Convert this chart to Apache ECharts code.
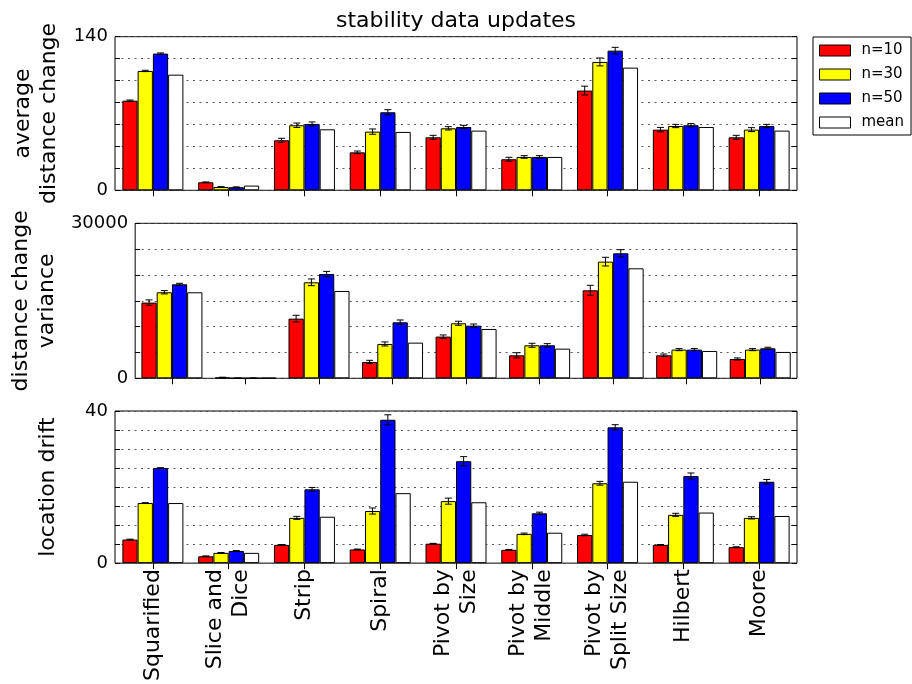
<!DOCTYPE html>
<html>
<head>
<meta charset="utf-8">
<script src="https://cdn.jsdelivr.net/npm/echarts@6/dist/echarts.min.js"></script>
<style>
html,body{margin:0;padding:0;background:#fff;}
#c{width:912px;height:684px;}
</style>
</head>
<body>
<div id="c"></div>
<script>
// ---- data ----
const categories = ['Squarified', 'Slice and\nDice', 'Strip', 'Spiral', 'Pivot by\nSize', 'Pivot by\nMiddle', 'Pivot by\nSplit Size', 'Hilbert', 'Moore'];
const seriesNames = ['n=10', 'n=30', 'n=50', 'mean'];

// panel 1: average distance change
const avgN10  = [81.7, 7.3, 45.6, 34.6, 48.3, 28.3, 90.9, 55.3, 48.3];
const avgN30  = [108.8, 3.0, 59.3, 53.5, 56.5, 30.4, 117.0, 58.6, 55.3];
const avgN50  = [124.6, 2.8, 60.5, 71.1, 57.7, 30.4, 127.3, 59.3, 58.6];
const avgMean = [105.4, 4.3, 55.6, 53.2, 54.4, 30.4, 111.8, 57.7, 54.4];
const avgErr10 = [0.6, 0.3, 1.8, 1.2, 1.8, 1.8, 4.0, 2.0, 1.8];
const avgErr30 = [0.6, 0.3, 2.0, 2.4, 1.5, 1.2, 3.6, 1.5, 1.8];
const avgErr50 = [0.6, 0.3, 1.8, 2.4, 1.5, 1.2, 3.0, 1.5, 1.5];

// panel 2: distance change variance
const varN10  = [14650, 150, 11550, 3160, 8070, 4450, 17030, 4450, 3740];
const varN30  = [16650, 30, 18580, 6650, 10650, 6390, 22580, 5550, 5550];
const varN50  = [18190, 30, 20190, 10840, 10190, 6390, 24190, 5550, 5810];
const varMean = [16650, 70, 16900, 6900, 9550, 5740, 21290, 5290, 5100];
const varErr10 = [520, 60, 650, 320, 320, 500, 970, 250, 200];
const varErr30 = [320, 20, 650, 390, 390, 390, 840, 200, 200];
const varErr50 = [200, 20, 500, 450, 320, 320, 700, 200, 200];

// panel 3: location drift
const driftN10  = [6.2, 1.8, 4.8, 3.6, 5.1, 3.5, 7.4, 4.8, 4.2];
const driftN30  = [15.8, 2.7, 11.9, 13.7, 16.3, 7.7, 21.0, 12.7, 11.9];
const driftN50  = [25.0, 3.2, 19.4, 37.7, 26.8, 13.1, 35.7, 22.9, 21.4];
const driftMean = [15.8, 2.7, 12.2, 18.4, 16.0, 8.0, 21.4, 13.3, 12.4];
const driftErr10 = [0.1, 0.1, 0.1, 0.1, 0.1, 0.1, 0.2, 0.1, 0.1];
const driftErr30 = [0.1, 0.1, 0.4, 0.8, 0.8, 0.2, 0.5, 0.4, 0.3];
const driftErr50 = [0.1, 0.1, 0.5, 1.3, 1.2, 0.3, 0.7, 0.8, 0.6];

const yNames = ['average\ndistance change', 'distance change\nvariance', 'location drift'];
const yMax = [140, 30000, 40];
const yInterval = [20, 5000, 5];

// ---- layout / style ----
const FONT = 'DejaVu Sans';
const colors = ['#ff0000', '#ffff00', '#0000ff', '#ffffff'];
const BAR_W = 15.25;
const gridTops = [36.7, 223.3, 411];
const gridHeights = [153.6, 155, 154];
const nameGaps = [53, 48, 54];

const panels = [
  {vals: [avgN10, avgN30, avgN50, avgMean], errs: [avgErr10, avgErr30, avgErr50]},
  {vals: [varN10, varN30, varN50, varMean], errs: [varErr10, varErr30, varErr50]},
  {vals: [driftN10, driftN30, driftN50, driftMean], errs: [driftErr10, driftErr30, driftErr50]}
];

const grids = [], xAxes = [], yAxes = [], series = [];

function renderErr(params, api) {
  const cat = api.value(0), v = api.value(1), e = api.value(2), k = api.value(3);
  const cx = api.coord([cat, v])[0] + (k - 1.5) * BAR_W;
  const yt = api.coord([cat, v + e])[1];
  const yb = api.coord([cat, v - e])[1];
  const cap = 3.5;
  const st = {stroke: '#000', lineWidth: 1};
  return {type: 'group', children: [
    {type: 'line', shape: {x1: cx, y1: yt, x2: cx, y2: yb}, style: st},
    {type: 'line', shape: {x1: cx - cap, y1: yt, x2: cx + cap, y2: yt}, style: st},
    {type: 'line', shape: {x1: cx - cap, y1: yb, x2: cx + cap, y2: yb}, style: st}
  ]};
}

panels.forEach((p, i) => {
  grids.push({left: 115, width: 682, top: gridTops[i], height: gridHeights[i],
    show: true, borderColor: '#000', borderWidth: 1, backgroundColor: 'transparent'});
  const isLast = i === panels.length - 1;
  xAxes.push({type: 'category', gridIndex: i, data: categories, position: 'bottom',
    axisLine: {show: false}, axisTick: {show: false},
    axisLabel: {show: isLast, interval: 0, rotate: 90, margin: 6, fontFamily: FONT,
      fontSize: 22, lineHeight: 26, color: '#000'},
    splitLine: {show: false}});
  xAxes.push({type: 'category', gridIndex: i, data: categories, position: 'top',
    axisLine: {show: false},
    axisTick: {show: true, inside: true, alignWithLabel: true, length: 6, lineStyle: {color: '#000'}},
    axisLabel: {show: false}, splitLine: {show: false}});
  const mx = yMax[i];
  yAxes.push({type: 'value', gridIndex: i, min: 0, max: mx, interval: yInterval[i], position: 'left',
    name: yNames[i], nameLocation: 'middle', nameRotate: 90, nameGap: nameGaps[i],
    nameTextStyle: {fontFamily: FONT, fontSize: 22, lineHeight: 26, color: '#000'},
    axisLine: {show: false},
    axisTick: {show: true, inside: true, length: 5, lineStyle: {color: '#000'}},
    axisLabel: {margin: 7, fontFamily: FONT, fontSize: 18, color: '#000',
      formatter: v => (v === 0 || v === mx) ? String(v) : ''},
    splitLine: {show: true, lineStyle: {color: '#555', width: 1, type: [2, 4.5]}}});
  yAxes.push({type: 'value', gridIndex: i, min: 0, max: mx, interval: yInterval[i], position: 'right',
    axisLine: {show: false},
    axisTick: {show: true, inside: true, length: 5, lineStyle: {color: '#000'}},
    axisLabel: {show: false}, splitLine: {show: false}});

  p.vals.forEach((arr, k) => {
    series.push({type: 'bar', name: seriesNames[k], xAxisIndex: 2 * i, yAxisIndex: 2 * i,
      data: arr, barWidth: BAR_W, barGap: '0%',
      itemStyle: {color: colors[k], borderColor: '#000', borderWidth: 1},
      emphasis: {disabled: true}});
  });
  const errData = [];
  p.errs.forEach((earr, k) => {
    earr.forEach((e, c) => errData.push([c, p.vals[k][c], e, k]));
  });
  series.push({type: 'custom', xAxisIndex: 2 * i, yAxisIndex: 2 * i, renderItem: renderErr,
    encode: {x: 0, y: 1}, data: errData, z: 5, clip: false, silent: true});
});

const chart = echarts.init(document.getElementById('c'), null, {renderer: 'canvas'});
chart.setOption({
  animation: false,
  backgroundColor: '#fff',
  title: {text: 'stability data updates', left: 'center', top: 5,
    textStyle: {fontFamily: FONT, fontSize: 22, fontWeight: 'normal', color: '#000'}},
  legend: {data: seriesNames, orient: 'vertical', left: 813, top: 37,
    padding: [6, 7, 5, 6], itemWidth: 31, itemHeight: 11, itemGap: 9, icon: 'rect',
    borderColor: '#000', borderWidth: 1, backgroundColor: '#fff',
    itemStyle: {borderColor: '#000', borderWidth: 1},
    textStyle: {fontFamily: FONT, fontSize: 15, lineHeight: 15, color: '#000', padding: [0, 0, 0, 6]}},
  grid: grids,
  xAxis: xAxes,
  yAxis: yAxes,
  series: series
});
</script>
</body>
</html>
